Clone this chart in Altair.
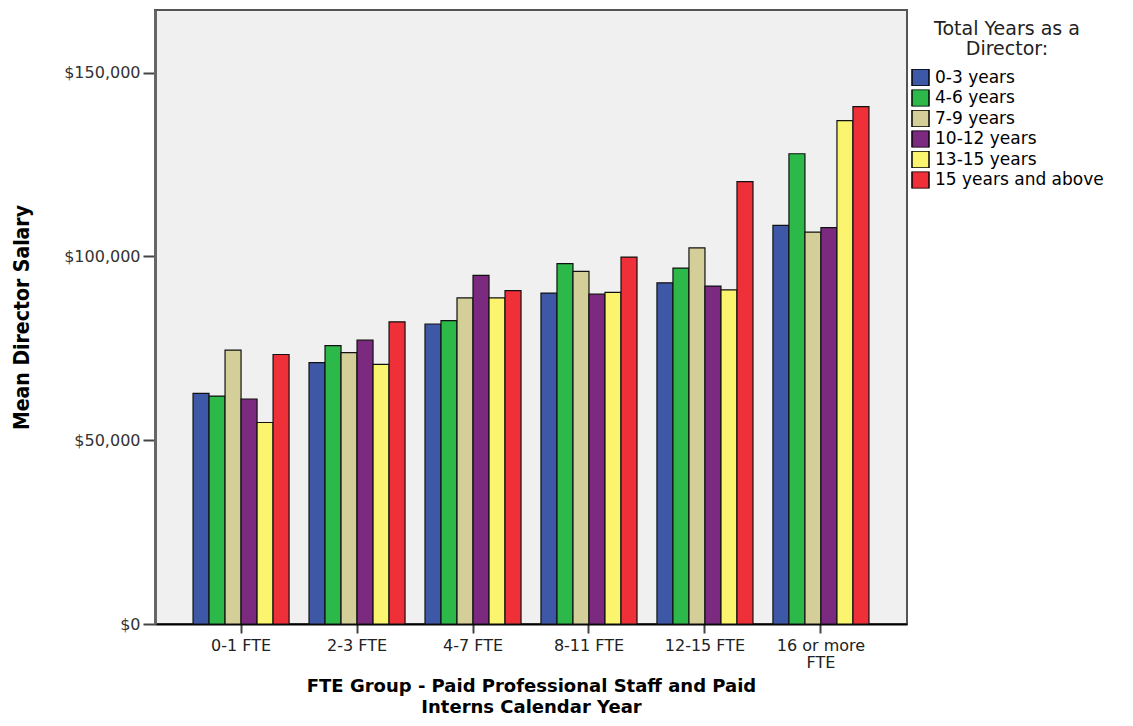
import altair as alt
import pandas as pd

groups = ["0-1 FTE", "2-3 FTE", "4-7 FTE", "8-11 FTE", "12-15 FTE", "16 or more FTE"]
years = ["0-3 years", "4-6 years", "7-9 years", "10-12 years", "13-15 years", "15 years and above"]
colors = ["#3e58a8", "#2db84a", "#d4cf98", "#7b2a80", "#fbf46e", "#ef3039"]

v_0_3 = [62700, 71100, 81600, 90000, 92800, 108400]
v_4_6 = [62000, 75700, 82500, 98000, 96800, 127900]
v_7_9 = [74500, 73800, 88700, 95900, 102300, 106600]
v_10_12 = [61200, 77200, 94800, 89700, 91900, 107800]
v_13_15 = [54800, 70600, 88700, 90200, 90900, 136900]
v_15p = [73300, 82200, 90700, 99800, 120300, 140700]

series = [v_0_3, v_4_6, v_7_9, v_10_12, v_13_15, v_15p]
rows = []
for yr, vals in zip(years, series):
    for g, v in zip(groups, vals):
        rows.append({"FTE": g, "Years": yr, "Salary": v})
df = pd.DataFrame(rows)

sans = "DejaVu Sans, sans-serif"

chart = alt.Chart(df).mark_bar(stroke="#111111", strokeWidth=1.2).encode(
    x=alt.X(
        "FTE:N",
        sort=groups,
        scale=alt.Scale(paddingInner=0.172, paddingOuter=0.328),
        axis=alt.Axis(
            title=["FTE Group - Paid Professional Staff and Paid", "Interns Calendar Year"],
            titleFont=sans,
            titleFontSize=18,
            titleFontWeight="bold",
            titleColor="black",
            titleX=376,
            titleY=53,
            titleBaseline="top",
            titleLineHeight=21,
            labelExpr="datum.label == '16 or more FTE' ? ['16 or more', 'FTE'] : datum.label",
            labelFont=sans,
            labelFontSize=16,
            labelColor="#222222",
            labelAngle=0,
            labelPadding=4,
            labelLineHeight=17,
            tickColor="#444444",
            tickSize=9,
            tickWidth=2,
            domainColor="black",
            domainWidth=2,
        ),
    ),
    xOffset=alt.XOffset("Years:N", sort=years),
    y=alt.Y(
        "Salary:Q",
        scale=alt.Scale(domain=[0, 167000], nice=False, zero=True),
        axis=alt.Axis(
            title="Mean Director Salary",
            titleFont="DejaVu Sans Condensed, Liberation Sans Narrow, sans-serif",
            titleFontSize=21,
            titleFontWeight="bold",
            titleColor="black",
            titleX=-133,
            titleY=307,
            titleAngle=-90,
            titleAlign="center",
            titleBaseline="middle",
            values=[0, 50000, 100000, 150000],
            format="$,.0f",
            labelFont=sans,
            labelFontSize=16,
            labelColor="#333333",
            labelPadding=3,
            tickColor="#444444",
            tickSize=12,
            tickWidth=2,
            domainColor="#666666",
            domainWidth=3,
            grid=False,
        ),
    ),
    color=alt.Color(
        "Years:N",
        sort=years,
        scale=alt.Scale(domain=years, range=colors),
        legend=alt.Legend(
            title=["Total Years as a", "Director:"],
            titleFont=sans,
            titleFontSize=19,
            titleFontWeight="normal",
            titleColor="#222222",
            titleAlign="center",
            titleAnchor="middle",
            titleLineHeight=20,
            titlePadding=10,
            titleLimit=400,
            labelFont=sans,
            labelFontSize=17,
            labelColor="black",
            labelOffset=5,
            labelLimit=400,
            symbolType="square",
            symbolSize=290,
            symbolStrokeColor="black",
            symbolStrokeWidth=1.5,
            symbolOpacity=1,
            clipHeight=17,
            rowPadding=2.5,
            orient="none",
            legendX=756,
            legendY=10,
        ),
    ),
).properties(
    width=752,
    height=614,
    background="white",
    padding={"left": 147, "top": 2, "right": 200, "bottom": 94},
    autosize=alt.AutoSizeParams(type="none"),
).configure_view(
    fill="#f0f0f0",
    stroke="#555555",
    strokeWidth=2,
)

chart.save("out.html", embed_options={"renderer": "svg", "actions": False})
